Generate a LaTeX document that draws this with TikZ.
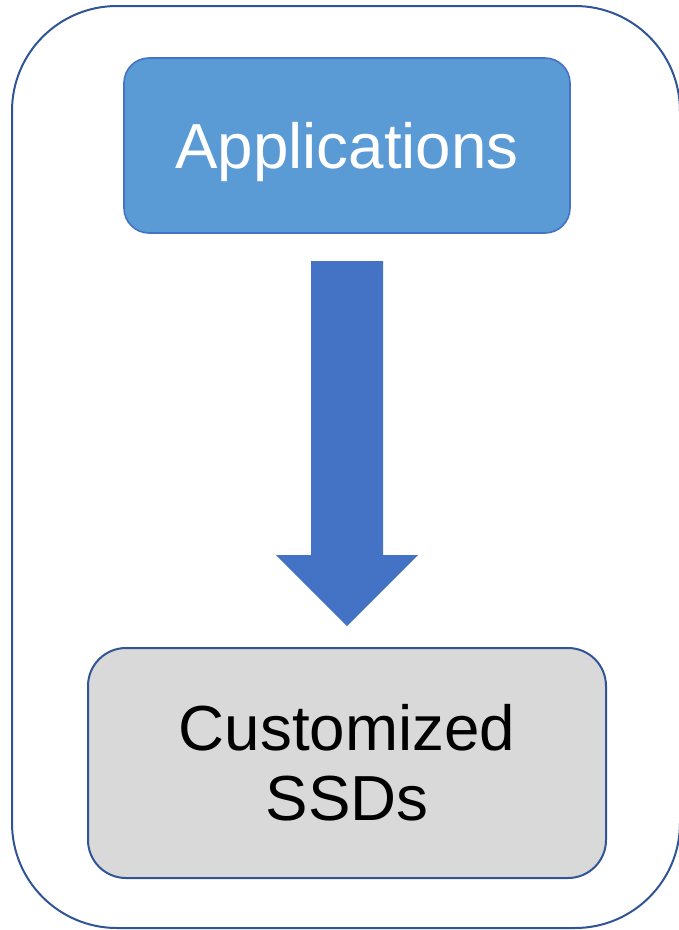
\documentclass[tikz,border=0pt]{standalone}
\usepackage{fontspec}
\setmainfont{Liberation Sans}
\definecolor{appfill}{HTML}{5B9BD5}
\definecolor{appline}{HTML}{4472C4}
\definecolor{arrowblue}{HTML}{4472C4}
\definecolor{darkline}{HTML}{2F5597}
\definecolor{ssdfill}{HTML}{D9D9D9}
\tikzset{
  framebox/.style={draw=darkline, line width=2pt, rounded corners=105pt},
  appbox/.style={draw=appline, fill=appfill, line width=1.6pt, rounded corners=25pt,
    minimum width=446pt, minimum height=175pt, inner sep=0pt, text=white,
    text depth=0pt, font=\fontsize{63.7}{70}\selectfont},
  ssdbox/.style={draw=darkline, fill=ssdfill, line width=2pt, rounded corners=38pt,
    minimum width=518pt, minimum height=230pt, inner sep=0pt, text=black, align=center,
    font=\fontsize{63.7}{70}\selectfont},
  blockarrow/.style={fill=arrowblue}
}
\begin{document}
\begin{tikzpicture}[x=1pt,y=-1pt]
\useasboundingbox (0,0) rectangle (679,930);
\draw[framebox] (12,6) rectangle (680,928);
\node[appbox] (app) at (347,145.5) {Applications};
\node[ssdbox] (ssd) at (347,763) {Customized\\SSDs};
\fill[blockarrow] (311,261) -- (383,261) -- (383,555) -- (418,555) -- (347,626) -- (276,555) -- (311,555) -- cycle;
\end{tikzpicture}
\end{document}
